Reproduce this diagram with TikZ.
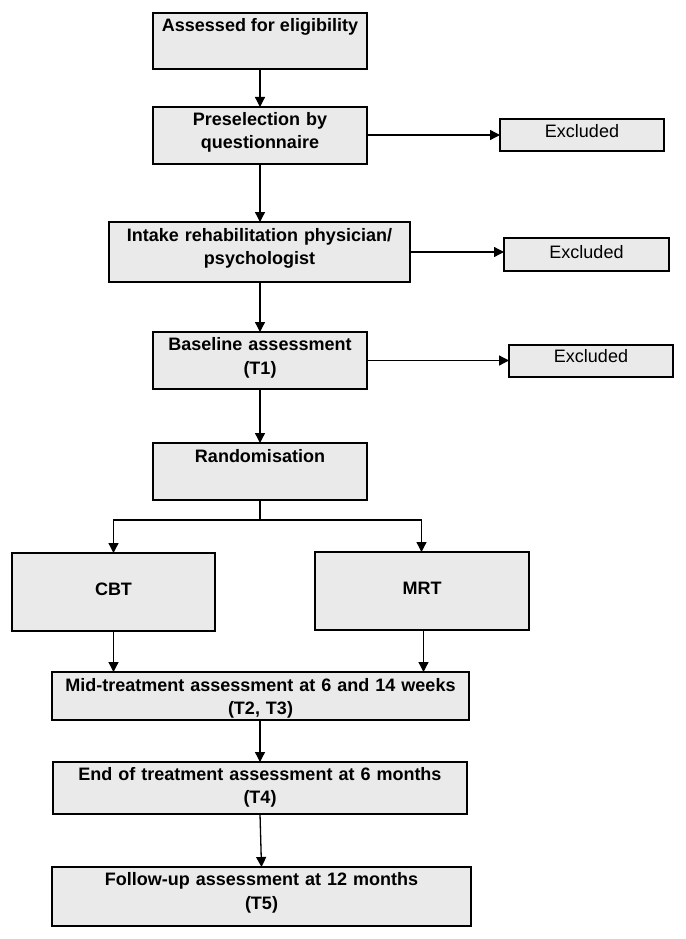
\documentclass[tikz,border=0pt]{standalone}
\usepackage{fontspec}
\setmainfont{Liberation Sans}
\usetikzlibrary{arrows.meta}
\definecolor{boxgray}{RGB}{234,234,234}
\begin{document}
\begin{tikzpicture}[x=1pt,y=-1pt,
  box/.style={draw=black, fill=boxgray, line width=1.3pt, inner sep=0pt, outer sep=0pt},
  lbl/.style={font=\fontsize{18}{23.5}\selectfont\bfseries, anchor=base, inner sep=0pt, align=center},
  exlbl/.style={font=\fontsize{18}{21}\selectfont, anchor=base, inner sep=0pt},
  arr/.style={line width=1.3pt, -{Triangle[length=10pt,width=10pt]}},
  ln/.style={line width=1.3pt}]
\fill[white] (0,0) rectangle (685,939);
\useasboundingbox (0,0) rectangle (685,939);

% main boxes
\node[box, minimum width=214, minimum height=56] (b1) at (260,41) {};
\node[box, minimum width=214, minimum height=57] (b2) at (260,135.5) {};
\node[box, minimum width=301, minimum height=60] (b3) at (259.5,252) {};
\node[box, minimum width=214, minimum height=57] (b4) at (260,360.5) {};
\node[box, minimum width=214, minimum height=57] (b5) at (260,471.5) {};
\node[box, minimum width=203, minimum height=78] (cbt) at (113.5,592) {};
\node[box, minimum width=214, minimum height=78] (mrt) at (422,591) {};
\node[box, minimum width=417, minimum height=48] (b8) at (260.5,696) {};
\node[box, minimum width=414, minimum height=52] (b9) at (260,788) {};
\node[box, minimum width=419, minimum height=59] (b10) at (261.5,896.5) {};

% excluded boxes
\node[box, minimum width=164, minimum height=32] (e1) at (582,135) {};
\node[box, minimum width=165, minimum height=33] (e2) at (586.5,254.5) {};
\node[box, minimum width=164, minimum height=32] (e3) at (591,361) {};

% texts
\node[lbl] (t1) at (260,31.5) {Assessed for eligibility};
\node[lbl, text width=210] (t2) at (260,125) {Preselection by\\questionnaire};
\node[lbl, text width=296] (t3) at (259.5,241) {Intake rehabilitation physician/\\psychologist};
\node[lbl, text width=210] (t4) at (260,350.5) {Baseline assessment\\(T1)};
\node[lbl] (t5) at (260,462) {Randomisation};
\node[lbl] (t6) at (113.5,595) {CBT};
\node[lbl] (t7) at (422,594) {MRT};
\node[lbl, text width=414] (t8) at (260.5,691) {Mid-treatment assessment at 6 and 14 weeks\\(T2, T3)};
\node[lbl, text width=410] (t9) at (260,780) {End of treatment assessment at 6 months\\(T4)};
\node[lbl, text width=414] (t10) at (261.5,885.5) {Follow-up assessment at 12 months\\(T5)};
\node[exlbl] (x1) at (582,137) {Excluded};
\node[exlbl] (x2) at (586.5,258.7) {Excluded};
\node[exlbl] (x3) at (591,362.7) {Excluded};

% connectors
\coordinate (split) at (260,520);
\draw[arr] (b1.south) -- (b2.north);
\draw[arr] (b2.south) -- (b2.south |- b3.north);
\draw[arr] (b3.south -| b2.south) -- (b4.north);
\draw[arr] (b4.south) -- (b5.north);
\draw[ln] (b5.south) -- (split);
\draw[arr] (split) -| (cbt.north);
\draw[arr] (split) -| ([xshift=-0.5pt]mrt.north);
\draw[arr] (cbt.south) -- (cbt.south |- b8.north);
\draw[arr] ([xshift=1.5pt]mrt.south) -- ([xshift=1.5pt]mrt.south |- b8.north);
\draw[arr] (b8.south -| b1.south) -- (b1.south |- b9.north);
\draw[arr] (b9.south) -- (b10.north);
\draw[arr] (b2.east |- e1.west) -- (e1.west);
\draw[arr] (b3.east) -- (b3.east -| e2.west);
\draw[arr] (b4.east) -- (b4.east -| e3.west);
\end{tikzpicture}
\end{document}
